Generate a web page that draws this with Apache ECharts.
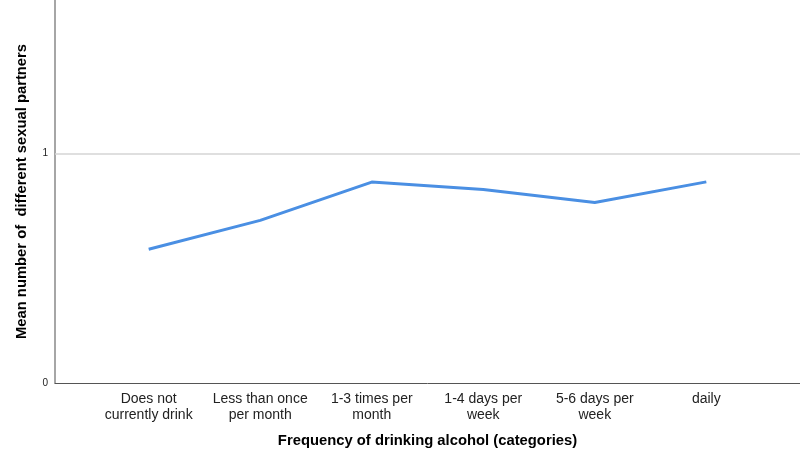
<!DOCTYPE html>
<html><head><meta charset="utf-8">
<script src="https://cdn.jsdelivr.net/npm/echarts@6/dist/echarts.min.js"></script>
<style>html,body{margin:0;padding:0;background:#fff}#c{width:800px;height:459px}</style>
</head><body><div id="c"></div>
<script>
const categories = ["Does not\ncurrently drink", "Less than once\nper month", "1-3 times per\nmonth", "1-4 days per\nweek", "5-6 days per\nweek", "daily"];
const meanPartners = [0.583, 0.709, 0.876, 0.844, 0.787, 0.877];
const yTicks = [0, 1];
const yGridLines = [1];

const chart = echarts.init(document.getElementById('c'));
const idx = categories.map((_, i) => i);
chart.setOption({
  animation: false,
  grid: {left: 55, right: 0, top: 0, bottom: 76},
  xAxis: {
    type: 'value', min: -0.84, max: 5.84,
    name: 'Frequency of drinking alcohol (categories)',
    nameLocation: 'middle', nameGap: 50,
    nameTextStyle: {fontFamily: 'Liberation Sans', fontSize: 14.8, fontWeight: 'bold', color: '#000'},
    axisLine: {show: true, lineStyle: {color: '#555', width: 1}},
    axisTick: {show: false},
    splitLine: {show: false},
    axisLabel: {
      customValues: idx, interval: 0,
      formatter: v => categories[Math.round(v)] || '',
      fontFamily: 'Liberation Sans', fontSize: 14, color: '#222', lineHeight: 16, margin: 8
    }
  },
  yAxis: {
    type: 'value', min: 0, max: 1.67,
    name: 'Mean number of  different sexual partners',
    nameLocation: 'middle', nameGap: 26,
    nameTextStyle: {fontFamily: 'Liberation Sans', fontSize: 14.8, fontWeight: 'bold', color: '#000'},
    axisLine: {show: true, onZero: false, lineStyle: {color: '#888', width: 1.5}},
    axisTick: {show: false},
    axisLabel: {customValues: yTicks, fontFamily: 'Liberation Sans', fontSize: 10, color: '#222', margin: 7},
    splitLine: {show: false}
  },
  series: [{
    type: 'line',
    data: meanPartners.map((v, i) => [i, v]),
    showSymbol: false,
    lineStyle: {color: '#4a8fe3', width: 3},
    itemStyle: {color: '#4a8fe3'},
    markLine: {
      silent: true, symbol: 'none', label: {show: false},
      lineStyle: {color: '#d4d4d4', width: 1.5, type: 'solid'},
      data: yGridLines.map(v => ({yAxis: v}))
    },
    z: 3
  }]
});
</script></body></html>
